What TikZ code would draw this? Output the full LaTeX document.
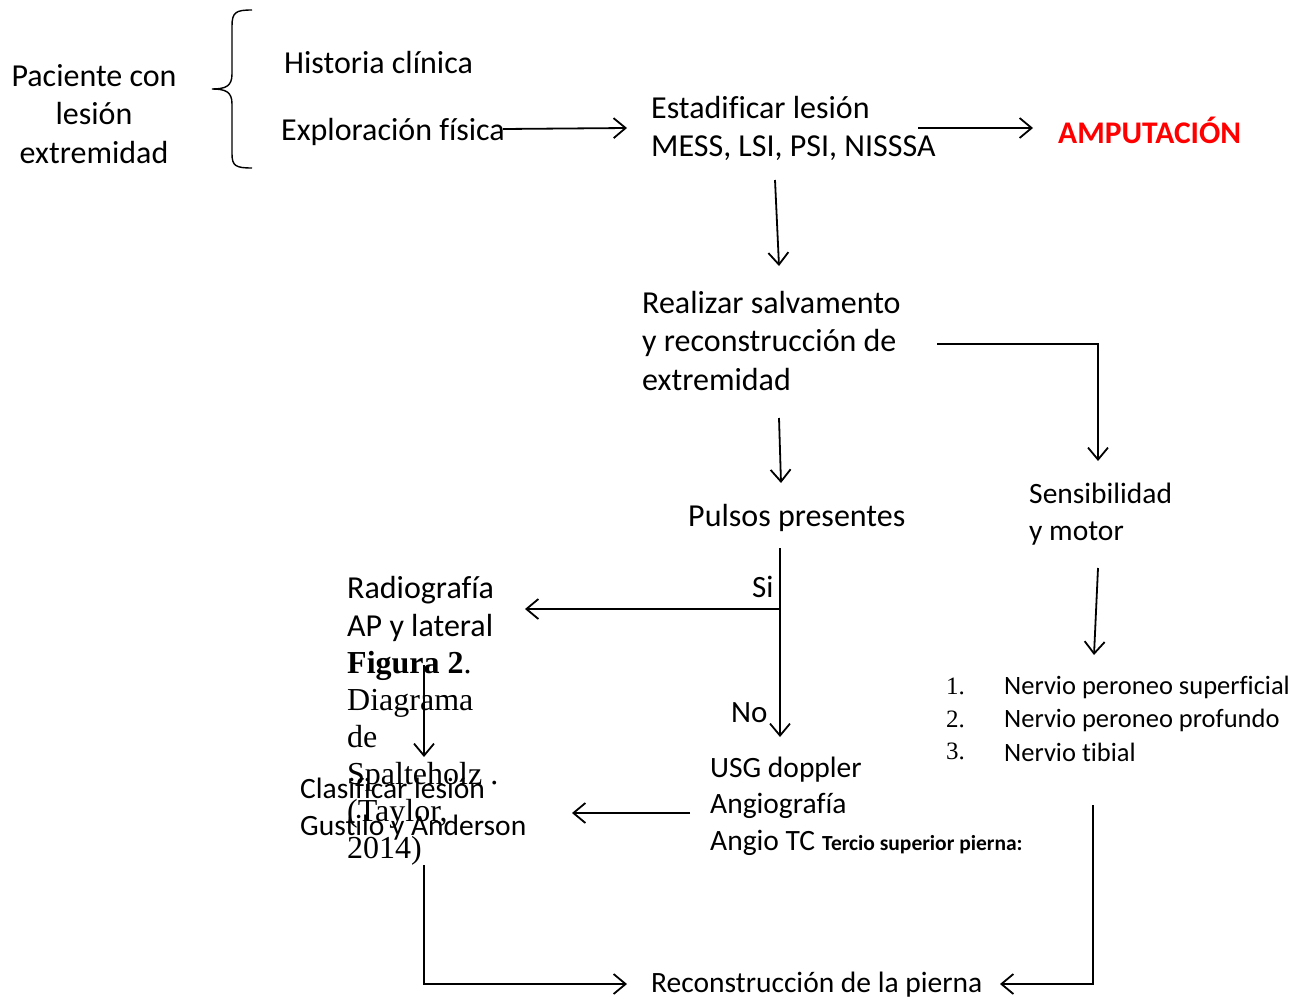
\documentclass[tikz,border=0pt]{standalone}
\usepackage{fontspec}
\setmainfont{Carlito}[Ligatures={NoCommon}]
\newfontfamily\timesf{Liberation Serif}
\usetikzlibrary{arrows.meta}
\begin{document}
\begin{tikzpicture}[x=1pt,y=-1pt,
  txt/.style={inner sep=0pt,font=\fontsize{32}{38.8}\selectfont,align=left},
  ctxt/.style={inner sep=0pt,font=\fontsize{32}{38.5}\selectfont,align=center},
  mtxt/.style={inner sep=0pt,font=\fontsize{29.5}{36.5}\selectfont,align=left},
  small/.style={inner sep=0pt,font=\fontsize{26.5}{33}\selectfont,align=left},
  tms/.style={inner sep=0pt,font=\fontsize{32}{37}\timesf,align=left},
  num/.style={inner sep=0pt,font=\fontsize{25}{30}\timesf},
  conn/.style={line width=1.8pt,-{Straight Barb[length=12pt,width=20pt,line width=1.8pt]}},
  plain/.style={line width=1.8pt}]
\useasboundingbox (0,0) rectangle (1305,1001);

% texts
\node[ctxt] (pac) at (94,114) {Paciente con\\lesión\\extremidad};
\node[txt,anchor=west] (hist) at (284,63) {Historia clínica};
\node[txt,anchor=west] (expl) at (281,132) {Exploración física};
\node[txt,anchor=west] (est) at (651,128.5) {Estadificar lesión\\MESS, LSI, PSI, NISSSA};
\node[inner sep=0pt,anchor=west,text=red,font=\fontsize{31.5}{35}\selectfont\bfseries] (amp) at (1058,130) {AMPUTACIÓN};
\node[txt,anchor=west] (real) at (642,341) {Realizar salvamento\\y reconstrucción de\\extremidad};
\node[txt,anchor=west] (puls) at (688,518) {Pulsos presentes};
\node[mtxt,anchor=west] (sens) at (1029,514) {Sensibilidad\\y motor};
\node[mtxt,anchor=west,font=\fontsize{31}{36}\selectfont] (si) at (752,587) {Si};
\node[mtxt,anchor=west,font=\fontsize{31}{36}\selectfont] (no) at (731,713) {No};
\node[txt,anchor=west] (rad) at (347,609) {Radiografía\\AP y lateral};
\node[tms,anchor=north west] (fig) at (347,651) {\textbf{Figura 2}.\\Diagrama\\de\\Spalteholz .\\(Taylor,\\2014)};
\node[mtxt,anchor=west] (clas) at (300,809) {Clasificar lesión\\Gustilo y Anderson};
\node[mtxt,anchor=west] (usg) at (710,806) {USG doppler\\Angiografía\\Angio TC};
\node[inner sep=0pt,anchor=base west,font=\fontsize{21.5}{24}\selectfont\bfseries] (terc) at ([xshift=112pt]usg.base west) {Tercio superior pierna:};
\node[small,anchor=west] (n1) at (1004,687) {Nervio peroneo superficial};
\node[small,anchor=west] (n2) at (1004,720) {Nervio peroneo profundo};
\node[small,anchor=west] (n3) at (1004,752) {Nervio tibial};
\node[num,anchor=west] (k1) at (946,686) {1.};
\node[num,anchor=west] (k2) at (946,719) {2.};
\node[num,anchor=west] (k3) at (946,751) {3.};
\node[mtxt,anchor=west] (recon) at (651,985) {Reconstrucción de la pierna};

% brace
\draw[line width=1.4pt] (252,10) .. controls (236,10) and (232,12) .. (232,26) -- (232,74)
  .. controls (232,86) and (226,89) .. (212,89) .. controls (226,89) and (232,92) .. (232,104)
  -- (232,154) .. controls (232,166) and (236,168) .. (252,168);

% connector coordinates
\coordinate (a1s) at (503,129); \coordinate (a1e) at (627,128);
\coordinate (a2s) at (918,128); \coordinate (a2e) at (1033,128);
\coordinate (a3s) at (775,180); \coordinate (a3e) at (779,266);
\coordinate (a4s) at (937,344); \coordinate (a4c) at (1098,344); \coordinate (a4e) at (1098,461);
\coordinate (a5s) at (779,418); \coordinate (a5e) at (781,483);
\coordinate (a6s) at (780,548); \coordinate (a6e) at (780,737);
\coordinate (a7s) at (780,609); \coordinate (a7e) at (525,609);
\coordinate (a8s) at (424,665); \coordinate (a8e) at (424,757);
\coordinate (a9s) at (690,813); \coordinate (a9e) at (572,813);
\coordinate (b1s) at (1098,568); \coordinate (b1e) at (1094,655);
\coordinate (b2s) at (1093,805); \coordinate (b2c) at (1093,984); \coordinate (b2e) at (1000,984);
\coordinate (b3s) at (424,865); \coordinate (b3c) at (424,984); \coordinate (b3e) at (627,984);

\draw[conn] (a1s) -- (a1e);
\draw[conn] (a2s) -- (a2e);
\draw[conn] (a3s) -- (a3e);
\draw[conn] (a4s) -- (a4c) -- (a4e);
\draw[conn] (a5s) -- (a5e);
\draw[conn] (a6s) -- (a6e);
\draw[conn] (a7s) -- (a7e);
\draw[conn] (a8s) -- (a8e);
\draw[conn] (a9s) -- (a9e);
\draw[conn] (b1s) -- (b1e);
\draw[conn] (b2s) -- (b2c) -- (b2e);
\draw[conn] (b3s) -- (b3c) -- (b3e);
\end{tikzpicture}
\end{document}
